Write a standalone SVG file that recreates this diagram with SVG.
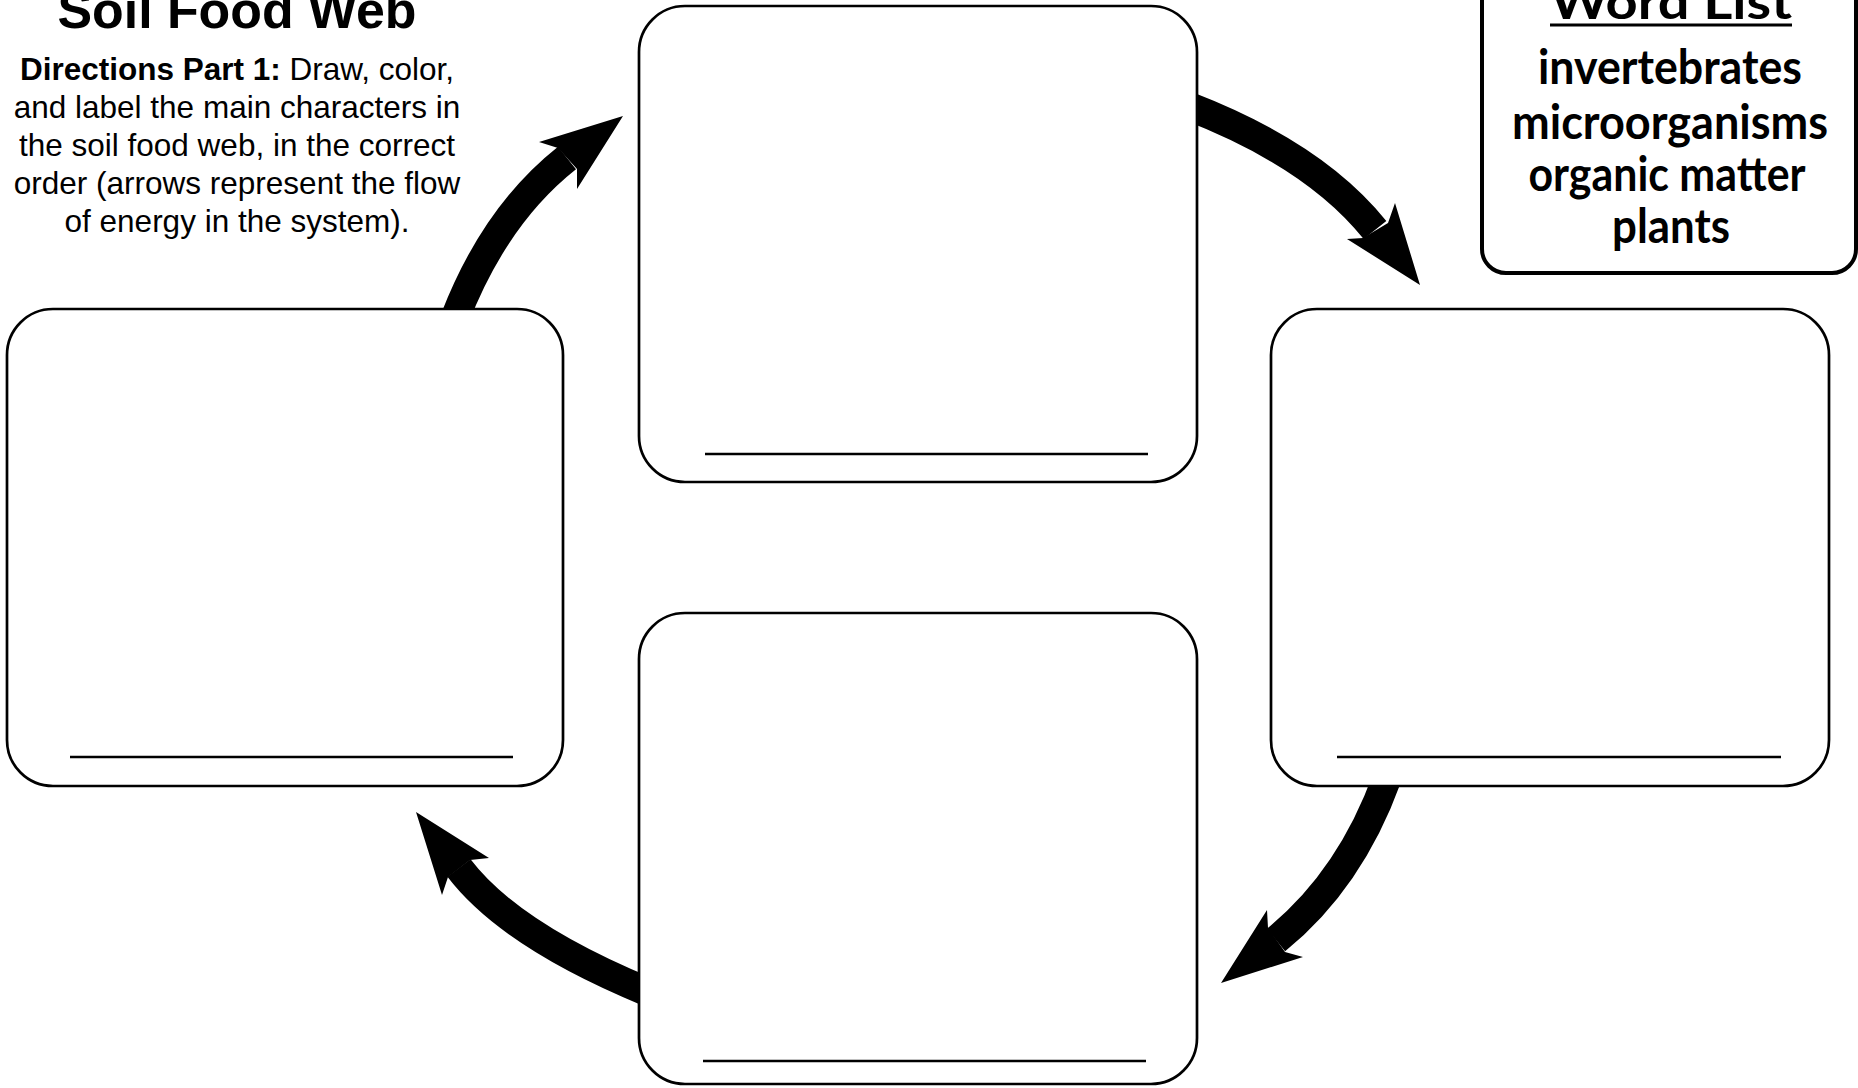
<svg xmlns="http://www.w3.org/2000/svg" width="1858" height="1088" viewBox="0 0 1858 1088">
<style>
.box{fill:#fff;stroke:#000;stroke-width:2.7}
.ln{stroke:#000;stroke-width:2.7}
.shaft{fill:none;stroke:#000;stroke-width:29;stroke-linecap:butt}
.head{fill:#000}
.dir{font-family:"Liberation Sans",Arial,sans-serif;font-size:31.5px;text-anchor:middle;fill:#000}
.wl{font-family:Lato,"Liberation Sans",sans-serif;font-weight:bold;font-size:48px;text-anchor:middle;fill:#000}
</style>
<rect width="1858" height="1088" fill="#fff"/>
<g id="connectors">
<path class="shaft" d="M455,318 Q495,215 567,158"/>
<polygon class="head" points="623,116 539,142 558,148 577,169 577,189"/>
<path class="shaft" d="M1188,106 Q1315,155 1375,230"/>
<polygon class="head" points="1420,285 1395,203 1388,223 1363,238 1347,239"/>
<path class="shaft" d="M1387,778 Q1350,880 1276,940"/>
<polygon class="head" points="1221,983 1267,910 1268,928 1285,952 1303,957"/>
<path class="shaft" d="M648,992 Q510,935 459,868"/>
<polygon class="head" points="416,812 489,858 470,860 448,877 442,895"/>
</g>
<g id="title">
<text x="237" y="28" font-family="'Liberation Sans',Arial,sans-serif" font-weight="bold" font-size="52" text-anchor="middle" textLength="359" lengthAdjust="spacingAndGlyphs">Soil Food Web</text>
</g>
<g id="directions">
<text class="dir" x="237" y="80"><tspan font-weight="bold">Directions Part 1:</tspan> Draw, color,</text>
<text class="dir" x="237" y="118">and label the main characters in</text>
<text class="dir" x="237" y="156">the soil food web, in the correct</text>
<text class="dir" x="237" y="194">order (arrows represent the flow</text>
<text class="dir" x="237" y="232">of energy in the system).</text>
</g>
<g id="word-list">
<rect x="1482" y="-40" width="374" height="313" rx="24" fill="#fff" stroke="#000" stroke-width="4"/>
<text class="wl" x="1671" y="19" textLength="242" lengthAdjust="spacingAndGlyphs" font-size="50">Word List</text>
<line x1="1550" y1="25" x2="1792" y2="25" stroke="#000" stroke-width="3"/>
<text class="wl" x="1670" y="84" textLength="264" lengthAdjust="spacingAndGlyphs">invertebrates</text>
<text class="wl" x="1670" y="139" textLength="316" lengthAdjust="spacingAndGlyphs">microorganisms</text>
<text class="wl" x="1667" y="191" textLength="277" lengthAdjust="spacingAndGlyphs">organic matter</text>
<text class="wl" x="1671" y="243" textLength="118" lengthAdjust="spacingAndGlyphs">plants</text>
</g>
<g id="box-top">
<rect class="box" x="639" y="6" width="558" height="476" rx="46"/>
<line class="ln" x1="705" y1="454" x2="1148" y2="454"/>
</g>
<g id="box-right">
<rect class="box" x="1271" y="309" width="558" height="477" rx="46"/>
<line class="ln" x1="1337" y1="757" x2="1781" y2="757"/>
</g>
<g id="box-bottom">
<rect class="box" x="639" y="613" width="558" height="471" rx="46"/>
<line class="ln" x1="703" y1="1061" x2="1146" y2="1061"/>
</g>
<g id="box-left">
<rect class="box" x="7" y="309" width="556" height="477" rx="46"/>
<line class="ln" x1="70" y1="757" x2="513" y2="757"/>
</g>
</svg>
